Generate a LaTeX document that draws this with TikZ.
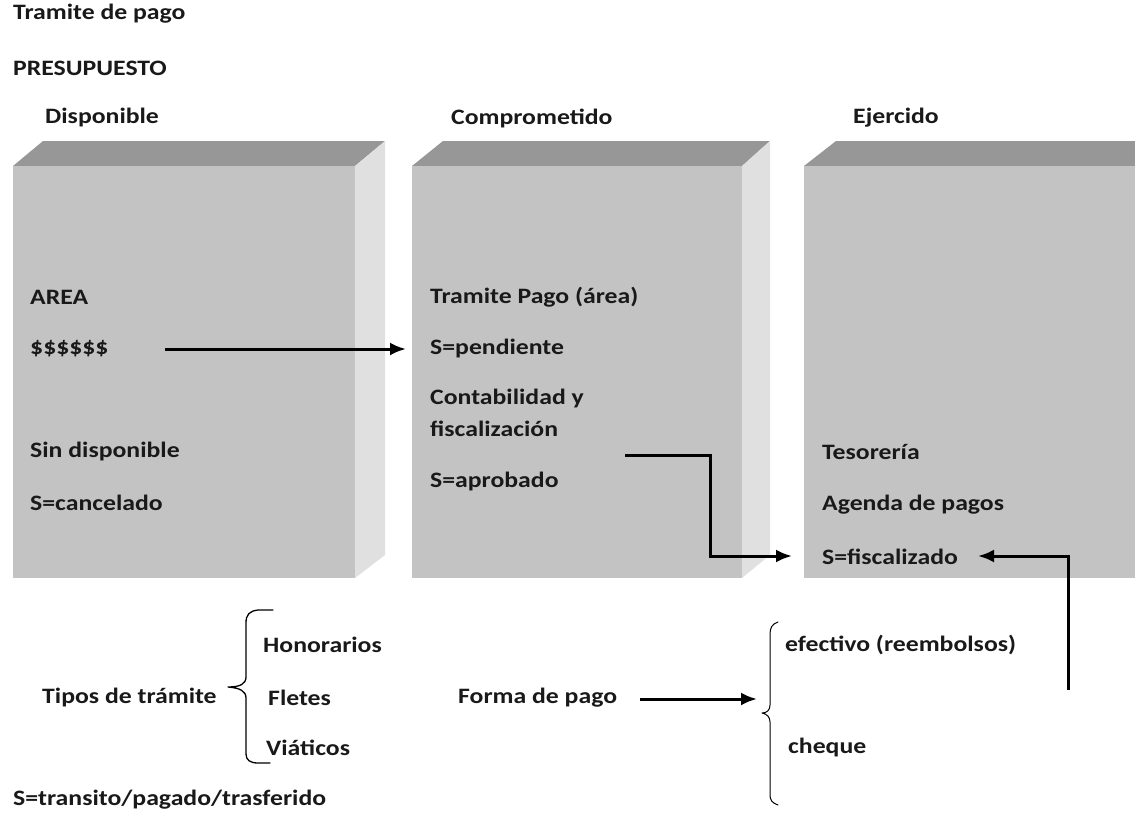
\documentclass[tikz,border=0pt]{standalone}
\usepackage{fontspec}
\setmainfont{Carlito}[FakeStretch=1.17]
\usetikzlibrary{arrows.meta}
\definecolor{frontc}{HTML}{C3C3C3}
\definecolor{topc}{HTML}{979797}
\definecolor{sidec}{HTML}{E0E0E0}
\tikzset{
  lbl/.style={anchor=west,inner sep=0pt,font=\fontsize{22}{26}\selectfont\bfseries,text=black!90},
  front/.style={fill=frontc,draw=none},
  topf/.style={fill=topc,draw=none},
  sidef/.style={fill=sidec,draw=none},
  conn/.style={line width=3pt,-{Latex[length=16pt,width=13pt]}},
  brace/.style={line width=1.3pt,line cap=round,line join=round}
}
\begin{document}
\begin{tikzpicture}[x=1pt,y=-1pt]
\useasboundingbox (0,0) rectangle (1135,816);
% box 1
\fill[topf] (13,166) -- (43,141) -- (385,141) -- (355,166) -- cycle;
\fill[sidef] (355,166) -- (385,141) -- (385,555) -- (355,578) -- cycle;
\fill[front] (13,166) rectangle (355,578);
% box 2
\fill[topf] (412,166) -- (443,141) -- (770,141) -- (742,166) -- cycle;
\fill[sidef] (742,166) -- (770,141) -- (770,555) -- (742,578) -- cycle;
\fill[front] (412,166) rectangle (742,578);
% box 3
\fill[topf] (804,166) -- (836,141) -- (1135,141) -- (1135,166) -- cycle;
\fill[front] (804,166) rectangle (1135,578);

% titles
\node[lbl] (t1) at (13,14) {Tramite de pago};
\node[lbl] (t2) at (13,68) {PRESUPUESTO};
\node[lbl] (h1) at (45,118) {Disponible};
\node[lbl] (h2) at (451,118) {Comprometido};
\node[lbl] (h3) at (853,118) {Ejercido};

% box 1 text
\node[lbl] (area) at (30,297) {AREA};
\node[lbl] (dollar) at (30,349) {\$\$\$\$\$\$};
\node[lbl] (sind) at (30,452) {Sin disponible};
\node[lbl] (canc) at (30,503) {S=cancelado};

% box 2 text
\node[lbl] (tpago) at (430,297) {Tramite Pago (área)};
\node[lbl] (pend) at (430,349) {S=pendiente};
\node[lbl] (cont1) at (430,399) {Contabilidad y};
\node[lbl] (cont2) at (430,429) {fiscalización};
\node[lbl] (aprob) at (430,482) {S=aprobado};

% box 3 text
\node[lbl] (teso) at (822,452) {Tesorería};
\node[lbl] (agenda) at (822,505) {Agenda de pagos};
\node[lbl] (fisc) at (822,557) {S=fiscalizado};

% bottom text
\node[lbl] (tipos) at (42,698) {Tipos de trámite};
\node[lbl] (hon) at (263,645) {Honorarios};
\node[lbl] (flet) at (268,698) {Fletes};
\node[lbl] (viat) at (266,748) {Viáticos};
\node[lbl] (forma) at (458,698) {Forma de pago};
\node[lbl] (efec) at (785,645) {efectivo (reembolsos)};
\node[lbl] (cheq) at (788,748) {cheque};
\node[lbl] (strans) at (13,800) {S=transito/pagado/trasferido};

% connector coordinates
\coordinate (a1s) at (165,349);
\coordinate (a1e) at (406,349);
\coordinate (a2s) at (625,455);
\coordinate (a2e) at (792,556);
\coordinate (a3s) at (1068,690);
\coordinate (a3e) at (978,556);
\coordinate (a4s) at (640,699);
\coordinate (a4e) at (757,699);

\draw[conn] (a1s) -- (a1e);
\draw[conn] (a2s) -- (710,455) -- (710,556) -- (a2e);
\draw[conn] (a3s) -- (1068,556) -- (a3e);
\draw[conn] (a4s) -- (a4e);

% braces
\draw[brace] (273,610) -- (258,610) .. controls (249,611) and (246,615) .. (246,623)
  -- (246,677) .. controls (246,684) and (240,687) .. (228,687)
  .. controls (240,688) and (246,691) .. (246,698)
  -- (246,754) .. controls (246,760) and (250,763) .. (258,763) -- (270,763);
\draw[brace,line width=1pt] (778,622) .. controls (772,624) and (770,628) .. (770,634)
  -- (770,705) .. controls (770,710) and (767,713) .. (762,713)
  .. controls (767,714) and (770,717) .. (770,722)
  -- (770,795) .. controls (770,800) and (772,803) .. (778,805);
\end{tikzpicture}
\end{document}
